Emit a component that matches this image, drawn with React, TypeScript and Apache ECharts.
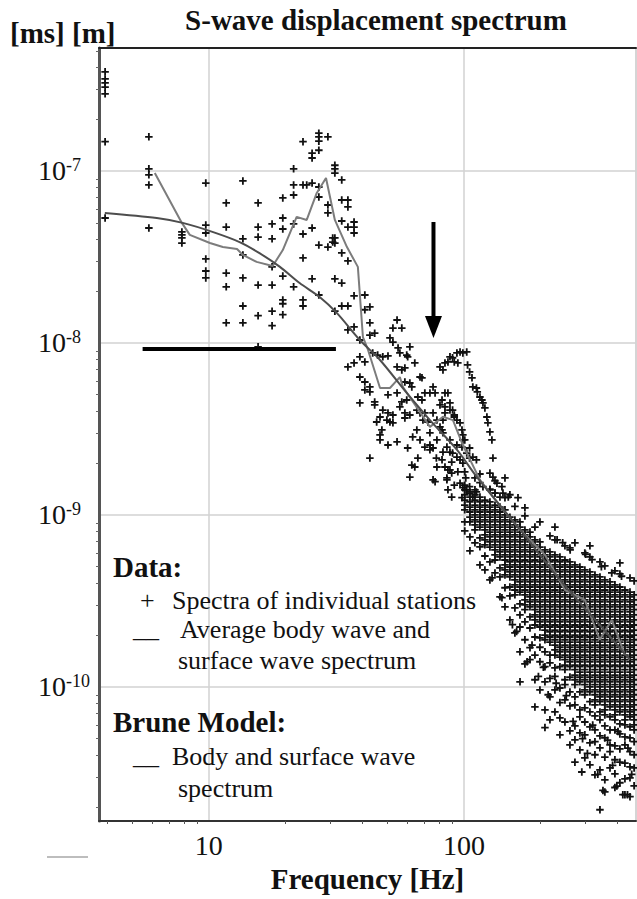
import React, { useEffect, useRef } from 'react';
import * as echarts from 'echarts';

const FONT = "'Liberation Serif', 'Times New Roman', Times, serif";

// ---- axis ranges & tick values ----
const freqMin = 3.71;
const freqMax = 473;
const ampMin = 1.66e-11;
const ampMax = 5.19e-7;
const minorFreqTicks = [4, 5, 6, 7, 8, 9, 20, 30, 40, 50, 60, 70, 80, 90, 200, 300, 400];
const minorAmpTicks = [
  2e-11, 3e-11, 4e-11, 5e-11, 6e-11, 7e-11, 8e-11, 9e-11,
  2e-10, 3e-10, 4e-10, 5e-10, 6e-10, 7e-10, 8e-10, 9e-10,
  2e-9, 3e-9, 4e-9, 5e-9, 6e-9, 7e-9, 8e-9, 9e-9,
  2e-8, 3e-8, 4e-8, 5e-8, 6e-8, 7e-8, 8e-8, 9e-8,
  2e-7, 3e-7, 4e-7, 5e-7,
];

// ---- station spectra, low frequencies [Hz, m·s] ----
const lowFreqPoints: [number, number][] = [
  [3.92, 3.77e-7], [3.92, 3.43e-7], [3.92, 3.25e-7], [3.92, 3.07e-7], [3.92, 2.81e-7], [3.92, 1.48e-7], [3.92, 5.33e-8],
  [5.82, 1.58e-7], [5.82, 1.03e-7], [5.82, 9.5e-8], [5.82, 8.3e-8], [5.82, 4.66e-8],
  [7.84, 4.42e-8], [7.84, 4.25e-8], [7.84, 4.08e-8], [7.84, 3.81e-8],
  [9.73, 8.5e-8], [9.73, 4.85e-8], [9.73, 4.36e-8], [9.73, 3.08e-8], [9.73, 2.62e-8], [9.73, 2.39e-8],
  [11.7, 6.52e-8], [11.7, 4.72e-8], [11.7, 2.55e-8], [11.7, 2.12e-8], [11.7, 1.31e-8],
  [13.6, 8.75e-8], [13.6, 4.03e-8], [13.6, 3.25e-8], [13.6, 2.39e-8], [13.6, 1.64e-8], [13.6, 1.31e-8],
  [15.6, 6.52e-8], [15.6, 4.72e-8], [15.6, 4.13e-8], [15.6, 2.17e-8], [15.6, 1.44e-8], [15.6, 9.5e-9],
  [17.7, 4.92e-8], [17.7, 4.03e-8], [17.7, 2.77e-8], [17.7, 2.17e-8], [17.7, 1.53e-8], [17.7, 1.26e-8],
  [19.5, 6.97e-8], [19.5, 5.33e-8], [19.5, 4.6e-8], [19.5, 2.45e-8], [19.5, 1.78e-8], [19.5, 1.69e-8], [19.5, 1.46e-8],
  [21.5, 1.03e-7], [21.5, 8.3e-8], [21.5, 7.25e-8], [21.5, 4.92e-8], [21.5, 2.12e-8],
  [23.4, 1.48e-7], [23.4, 8.3e-8], [24.2, 8.3e-8], [23.4, 4.3e-8], [23.4, 3.12e-8], [23.4, 1.78e-8], [23.4, 1.64e-8],
  [25.4, 1.27e-7], [25.4, 1.19e-7], [25.4, 8.5e-8], [25.4, 4.66e-8], [25.4, 2.36e-8],
  [27.0, 1.66e-7], [27.0, 1.58e-7], [27.0, 1.49e-7], [27.0, 1.32e-7], [27.0, 8.07e-8], [27.0, 7.06e-8], [27.0, 3.71e-8], [27.0, 1.9e-8],
  [29.3, 1.58e-7], [29.3, 6.34e-8], [29.3, 5.7e-8], [29.3, 3.61e-8],
  [30.6, 4.08e-8], [30.6, 3.86e-8],
  [31.2, 1.08e-7], [31.2, 1.03e-7], [31.2, 9.73e-8], [31.2, 4.08e-8], [31.2, 3.81e-8], [31.2, 2.36e-8], [31.2, 1.53e-8],
  [33.2, 8.87e-8], [33.2, 6.78e-8], [33.2, 5.12e-8], [33.2, 3.34e-8], [33.2, 2.23e-8], [33.2, 1.64e-8],
  [35.1, 6.78e-8], [35.1, 6.18e-8], [35.1, 4.72e-8], [35.1, 3.0e-8], [35.1, 1.64e-8], [35.1, 1.19e-8], [35.1, 7.25e-9],
  [37.1, 5.05e-8], [37.1, 4.72e-8], [37.1, 4.36e-8], [37.1, 1.88e-8], [37.1, 1.24e-8], [37.1, 7.65e-9],
];

// ---- station spectra, 39–165 Hz ----
const midFreqPoints: [number, number][] = [
  [39.1, 1.04e-8], [39.1, 8.3e-9], [39.1, 6.34e-9], [39.1, 4.48e-9],
  [40.9, 1.9e-8], [40.9, 1.56e-8], [40.9, 7.76e-9], [40.9, 5.93e-9], [40.9, 5.33e-9],
  [42.8, 1.62e-8], [42.8, 1.31e-8], [42.8, 1.11e-8], [42.8, 5.55e-9], [42.8, 5.19e-9], [42.8, 2.14e-9],
  [43.9, 8.75e-9], [44.7, 1.14e-8], [44.7, 4.54e-9], [44.7, 4.36e-9], [45.5, 3.47e-9], [45.9, 8.5e-9],
  [46.9, 3.71e-9], [46.9, 2.92e-9], [46.9, 2.73e-9], [47.7, 3.12e-9], [48.1, 8.3e-9], [48.1, 4.07e-9],
  [49.9, 3.56e-9], [50.4, 8.4e-9], [50.4, 4.99e-9], [50.4, 3.92e-9], [50.4, 2.55e-9], [51.3, 1.07e-8], [51.3, 3.47e-9],
  [52.7, 1.22e-8], [52.7, 1.01e-8], [52.7, 3.81e-9], [52.7, 3.43e-9],
  [54.7, 1.36e-8], [54.7, 5.12e-9], [54.7, 7.25e-9], [54.7, 2.66e-9], [55.2, 9.35e-9], [56.1, 8.75e-9], [56.1, 4.25e-9],
  [57.1, 1.22e-8], [57.1, 4.54e-9], [57.1, 6.97e-9],
  [58.7, 7.16e-9], [58.7, 3.92e-9], [58.7, 3.66e-9], [58.7, 5.93e-9], [59.7, 8.5e-9], [59.7, 4.66e-9], [60.2, 8.3e-9],
  [60.2, 2.45e-9], [61.4, 9.5e-9], [61.4, 5.85e-9], [61.4, 3.81e-9], [61.4, 1.66e-9],
  [62.5, 5.55e-9], [62.5, 1.95e-9], [63.0, 2.84e-9], [64.2, 7.65e-9], [64.2, 1.9e-9], [65.4, 4.07e-9], [65.4, 3.12e-9],
  [66.0, 4.85e-9], [66.0, 2.14e-9],
  [67.3, 6.34e-9], [67.3, 3.92e-9], [67.3, 2.73e-9], [68.5, 6.27e-9], [68.5, 4.66e-9], [69.1, 3.56e-9], [70.3, 5.12e-9],
  [70.3, 3.92e-9], [70.3, 2.48e-9],
  [72.3, 3.47e-9], [73.6, 5.12e-9], [73.6, 3.0e-9], [73.6, 2.55e-9], [73.6, 2.39e-9], [75.7, 5.55e-9], [75.7, 3.92e-9],
  [75.7, 2.45e-9], [75.7, 1.6e-9], [77.1, 5.12e-9], [77.1, 1.56e-9], [78.4, 3.56e-9], [78.4, 2.73e-9], [78.4, 1.9e-9], [78.0, 2.14e-9],
  [80.6, 7.25e-9], [80.6, 4.36e-9], [80.6, 3.25e-9], [82.1, 4.66e-9], [82.1, 3.12e-9], [82.1, 2.09e-9], [82.8, 6.97e-9],
  [82.8, 3.56e-9], [82.8, 3.0e-9], [82.8, 2.32e-9], [84.3, 7.65e-9], [84.3, 5.12e-9], [84.3, 4.25e-9], [84.3, 3.92e-9], [84.3, 1.9e-9],
  [85.8, 2.48e-9], [85.8, 1.64e-9], [85.8, 1.6e-9], [86.6, 7.76e-9], [86.6, 5.12e-9], [86.6, 1.83e-9], [86.6, 1.4e-9],
  [88.2, 8.3e-9], [88.2, 4.48e-9], [88.2, 4.07e-9], [88.2, 2.73e-9], [88.2, 2.32e-9], [88.2, 1.83e-9], [89.6, 1.75e-9],
  [89.6, 1.27e-9], [89.6, 2.03e-9], [90.3, 8.2e-9], [90.3, 4.07e-9], [90.3, 2.29e-9], [91.7, 7.76e-9], [91.7, 3.81e-9],
  [91.7, 3.71e-9], [91.7, 1.49e-9], [93.9, 8.75e-9], [93.9, 3.56e-9], [93.9, 2.55e-9], [93.9, 2.17e-9], [94.7, 7.65e-9], [94.7, 1.78e-9],
  [96.6, 8.87e-9], [96.6, 3.43e-9], [96.6, 2.09e-9], [96.6, 1.53e-9], [98.3, 3.12e-9], [98.3, 2.48e-9], [98.3, 1.26e-9],
  [99.1, 8.75e-9], [99.1, 2.92e-9], [99.1, 2.73e-9], [99.1, 2.0e-9], [99.1, 1.44e-9], [100.8, 2.73e-9], [101.7, 1.64e-9],
  [102.6, 8.87e-9], [102.6, 2.29e-9], [102.6, 1.4e-9], [103.4, 7.45e-9], [105.3, 6.78e-9], [105.3, 2.45e-9],
  [105.3, 2.14e-9], [105.3, 1.34e-9], [105.3, 1.46e-9],
  [107.6, 6.27e-9], [108.4, 5.55e-9], [108.4, 2.17e-9], [108.4, 1.27e-9], [112, 5.47e-9], [112, 2.09e-9], [112, 1.36e-9],
  [112.9, 5.19e-9], [115.6, 4.85e-9], [117.7, 4.66e-9], [118.8, 4.48e-9], [118.8, 1.46e-9], [120.9, 4.19e-9],
  [123.1, 3.71e-9], [124.2, 3.43e-9], [126.5, 3.04e-9], [126.5, 1.75e-9], [126.5, 1.4e-9], [128.8, 2.73e-9],
  [130, 2.14e-9], [130, 1.66e-9], [132.4, 1.34e-9], [134.8, 1.53e-9], [138.5, 1.27e-9], [141, 1.46e-9],
  [142.3, 1.34e-9], [144.9, 1.64e-9], [149.3, 1.27e-9], [163, 1.26e-9],
];

// ---- station spectra, scattered points around the dense cloud ----
const fringePoints: [number, number][] = [
  [232, 7.16e-10], [261, 6.26e-10], [244, 6.9e-10], [166, 1.07e-10],
  [335, 3.1e-11], [351, 2.5e-11], [398, 2.65e-11], [420, 2.36e-11], [438, 2.36e-11],
  [129, 4.3e-10], [141, 3.3e-10], [155, 2.3e-10], [161, 2.1e-10], [177, 1.4e-10], [196, 1.15e-10],
  [300, 5.9e-10], [318, 5.5e-10], [346, 5.0e-10], [380, 4.6e-10], [415, 4.4e-10],
  [252, 8.9e-11], [268, 6.3e-11], [292, 5.0e-11], [305, 4.1e-11], [320, 6.0e-11], [366, 4.9e-11], [383, 3.5e-11],
  [402, 5.5e-11], [440, 4.4e-11], [230, 1.05e-10], [205, 1.3e-10], [185, 1.75e-10], [214, 9.0e-11], [290, 3.2e-11], [455, 3.1e-11],
];

// ---- station spectra, dense high-frequency cloud (one list of amplitudes per frequency) ----
const cloudFreqs = [100.8, 105.6, 110.5, 115.6, 120.9, 126.5, 132.4, 138.5, 144.9, 151.5, 158.5, 165.9, 173.5, 181.6, 189.9, 198.7, 207.9, 217.5, 227.5, 238, 249, 260.5, 272.5, 285, 298, 312, 326.5, 341.6, 357, 374, 391, 409, 428, 448, 465];
const cloudAmps: number[][] = [
  [1.78e-9, 1.49e-9, 1.40e-9, 1.31e-9, 1.22e-9, 1.14e-9, 1.07e-9, 9.1e-10, 8.07e-10],
  [1.36e-9, 1.27e-9, 1.19e-9, 1.11e-9, 1.04e-9, 9.7e-10, 9.1e-10, 7.45e-10, 6.18e-10],
  [1.64e-9, 1.40e-9, 1.31e-9, 1.22e-9, 1.14e-9, 1.07e-9, 1.0e-9, 9.35e-10, 8.75e-10, 8.18e-10, 6.88e-10],
  [1.73e-9, 1.54e-9, 1.27e-9, 1.19e-9, 1.11e-9, 1.04e-9, 9.7e-10, 9.1e-10, 8.5e-10, 7.35e-10, 6.52e-10, 5.12e-10],
  [1.22e-9, 1.14e-9, 1.07e-9, 1.0e-9, 9.35e-10, 8.75e-10, 8.18e-10, 7.65e-10, 7.16e-10, 6.70e-10, 5.77e-10, 4.79e-10],
  [1.41e-9, 1.19e-9, 1.11e-9, 1.04e-9, 9.7e-10, 9.1e-10, 8.5e-10, 7.95e-10, 7.45e-10, 6.97e-10, 6.5e-10, 5.33e-10, 4.19e-10],
  [1.58e-9, 1.34e-9, 1.14e-9, 1.07e-9, 1.0e-9, 9.35e-10, 8.75e-10, 8.18e-10, 7.65e-10, 7.16e-10, 6.70e-10, 6.26e-10, 5.85e-10, 5.47e-10, 4.6e-10],
  [1.11e-9, 1.04e-9, 9.7e-10, 9.1e-10, 8.5e-10, 7.95e-10, 7.45e-10, 6.97e-10, 6.5e-10, 6.09e-10, 5.7e-10, 4.92e-10, 4.36e-10, 3.34e-10],
  [1.26e-9, 1.07e-9, 1.0e-9, 9.35e-10, 8.75e-10, 8.18e-10, 7.65e-10, 7.16e-10, 6.70e-10, 6.26e-10, 5.85e-10, 5.47e-10, 5.12e-10, 4.79e-10, 4.48e-10, 3.77e-10, 2.92e-10],
  [1.31e-9, 9.7e-10, 9.1e-10, 8.5e-10, 7.95e-10, 7.45e-10, 6.97e-10, 6.5e-10, 6.09e-10, 5.7e-10, 5.33e-10, 4.98e-10, 4.66e-10, 4.36e-10, 3.81e-10, 3.38e-10, 2.45e-10],
  [1.12e-9, 9.35e-10, 8.75e-10, 8.18e-10, 7.65e-10, 7.16e-10, 6.70e-10, 6.26e-10, 5.85e-10, 5.47e-10, 5.12e-10, 4.79e-10, 4.48e-10, 4.19e-10, 3.92e-10, 3.66e-10, 3.43e-10, 2.88e-10, 2.06e-10],
  [9.1e-10, 8.5e-10, 7.95e-10, 7.45e-10, 6.97e-10, 6.5e-10, 6.09e-10, 5.7e-10, 5.33e-10, 4.98e-10, 4.66e-10, 4.36e-10, 4.08e-10, 3.81e-10, 3.56e-10, 3.04e-10, 2.62e-10, 2.23e-10, 1.6e-10],
  [1.10e-9, 9.87e-10, 8.18e-10, 7.65e-10, 7.16e-10, 6.70e-10, 6.26e-10, 5.85e-10, 5.47e-10, 5.12e-10, 4.79e-10, 4.48e-10, 4.19e-10, 3.92e-10, 3.66e-10, 3.43e-10, 3.21e-10, 3.0e-10, 2.81e-10, 2.39e-10, 1.88e-10, 1.36e-10],
  [7.95e-10, 7.45e-10, 6.97e-10, 6.5e-10, 6.09e-10, 5.7e-10, 5.33e-10, 4.98e-10, 4.66e-10, 4.36e-10, 4.08e-10, 3.81e-10, 3.56e-10, 3.34e-10, 3.12e-10, 2.92e-10, 2.55e-10, 2.2e-10, 1.69e-10, 1.44e-10],
  [8.5e-10, 7.16e-10, 6.70e-10, 6.26e-10, 5.85e-10, 5.47e-10, 5.12e-10, 4.79e-10, 4.48e-10, 4.19e-10, 3.92e-10, 3.66e-10, 3.43e-10, 3.21e-10, 3.0e-10, 2.81e-10, 2.62e-10, 2.45e-10, 2.29e-10, 1.95e-10, 1.53e-10, 1.10e-10, 7.65e-11],
  [9.1e-10, 6.97e-10, 6.5e-10, 6.09e-10, 5.7e-10, 5.33e-10, 4.98e-10, 4.66e-10, 4.36e-10, 4.08e-10, 3.81e-10, 3.56e-10, 3.34e-10, 3.12e-10, 2.92e-10, 2.73e-10, 2.55e-10, 2.39e-10, 2.23e-10, 1.93e-10, 1.7e-10, 1.4e-10, 9.6e-11],
  [6.26e-10, 5.85e-10, 5.47e-10, 5.12e-10, 4.79e-10, 4.48e-10, 4.19e-10, 3.92e-10, 3.66e-10, 3.43e-10, 3.21e-10, 3.0e-10, 2.81e-10, 2.62e-10, 2.45e-10, 2.29e-10, 2.14e-10, 2.0e-10, 1.88e-10, 1.6e-10, 1.31e-10, 1.07e-10, 7.35e-11, 5.8e-11],
  [7.55e-10, 6.09e-10, 5.7e-10, 5.33e-10, 4.98e-10, 4.66e-10, 4.36e-10, 4.08e-10, 3.81e-10, 3.56e-10, 3.34e-10, 3.12e-10, 2.92e-10, 2.73e-10, 2.55e-10, 2.39e-10, 2.23e-10, 2.09e-10, 1.95e-10, 1.82e-10, 1.53e-10, 1.38e-10, 1.12e-10, 8.75e-11, 6.43e-11],
  [8.5e-10, 7.16e-10, 5.85e-10, 5.47e-10, 5.12e-10, 4.79e-10, 4.48e-10, 4.19e-10, 3.92e-10, 3.66e-10, 3.43e-10, 3.21e-10, 3.0e-10, 2.81e-10, 2.62e-10, 2.45e-10, 2.29e-10, 2.14e-10, 2.0e-10, 1.88e-10, 1.75e-10, 1.64e-10, 1.53e-10, 1.29e-10, 1.15e-10, 9.6e-11, 7.15e-11],
  [5.7e-10, 5.33e-10, 4.98e-10, 4.66e-10, 4.36e-10, 4.08e-10, 3.81e-10, 3.56e-10, 3.34e-10, 3.12e-10, 2.92e-10, 2.73e-10, 2.55e-10, 2.39e-10, 2.23e-10, 2.09e-10, 1.95e-10, 1.82e-10, 1.7e-10, 1.6e-10, 1.49e-10, 1.31e-10, 9.85e-11, 8.1e-11, 6.6e-11, 5.26e-11],
  [6.61e-10, 5.47e-10, 5.12e-10, 4.79e-10, 4.48e-10, 4.19e-10, 3.92e-10, 3.66e-10, 3.43e-10, 3.21e-10, 3.0e-10, 2.81e-10, 2.62e-10, 2.45e-10, 2.29e-10, 2.14e-10, 2.0e-10, 1.88e-10, 1.75e-10, 1.64e-10, 1.53e-10, 1.44e-10, 1.34e-10, 1.26e-10, 1.10e-10, 1.03e-10, 8.4e-11, 6.25e-11],
  [6.43e-10, 5.33e-10, 4.98e-10, 4.66e-10, 4.36e-10, 4.08e-10, 3.81e-10, 3.56e-10, 3.34e-10, 3.12e-10, 2.92e-10, 2.73e-10, 2.55e-10, 2.39e-10, 2.23e-10, 2.09e-10, 1.95e-10, 1.82e-10, 1.7e-10, 1.6e-10, 1.49e-10, 1.4e-10, 1.31e-10, 1.14e-10, 9.35e-11, 7.75e-11, 5.55e-11, 4.6e-11],
  [6.88e-10, 5.12e-10, 4.79e-10, 4.48e-10, 4.19e-10, 3.92e-10, 3.66e-10, 3.43e-10, 3.21e-10, 3.0e-10, 2.81e-10, 2.62e-10, 2.45e-10, 2.29e-10, 2.14e-10, 2.0e-10, 1.88e-10, 1.75e-10, 1.64e-10, 1.53e-10, 1.44e-10, 1.34e-10, 1.26e-10, 1.17e-10, 1.10e-10, 1.03e-10, 8.75e-11, 7.85e-11, 5.93e-11, 4.92e-11, 3.65e-11],
  [4.98e-10, 4.66e-10, 4.36e-10, 4.08e-10, 3.81e-10, 3.56e-10, 3.34e-10, 3.12e-10, 2.92e-10, 2.73e-10, 2.55e-10, 2.39e-10, 2.23e-10, 2.09e-10, 1.95e-10, 1.82e-10, 1.7e-10, 1.6e-10, 1.49e-10, 1.4e-10, 1.31e-10, 1.22e-10, 1.14e-10, 1.07e-10, 9.35e-11, 7.35e-11, 6.7e-11, 5.4e-11, 4.3e-11],
  [6.01e-10, 4.79e-10, 4.48e-10, 4.19e-10, 3.92e-10, 3.66e-10, 3.43e-10, 3.21e-10, 3.0e-10, 2.81e-10, 2.62e-10, 2.45e-10, 2.29e-10, 2.14e-10, 2.0e-10, 1.88e-10, 1.75e-10, 1.64e-10, 1.53e-10, 1.44e-10, 1.34e-10, 1.26e-10, 1.17e-10, 1.10e-10, 1.03e-10, 9.6e-11, 9.0e-11, 7.55e-11, 6.25e-11, 5.26e-11, 3.87e-11],
  [6.61e-10, 5.7e-10, 4.66e-10, 4.36e-10, 4.08e-10, 3.81e-10, 3.56e-10, 3.34e-10, 3.12e-10, 2.92e-10, 2.73e-10, 2.55e-10, 2.39e-10, 2.23e-10, 2.09e-10, 1.95e-10, 1.82e-10, 1.7e-10, 1.6e-10, 1.49e-10, 1.4e-10, 1.31e-10, 1.22e-10, 1.14e-10, 1.07e-10, 1.0e-10, 9.35e-11, 8.2e-11, 7.15e-11, 5.85e-11, 4.73e-11, 3.52e-11],
  [4.48e-10, 4.19e-10, 3.92e-10, 3.66e-10, 3.43e-10, 3.21e-10, 3.0e-10, 2.81e-10, 2.62e-10, 2.45e-10, 2.29e-10, 2.14e-10, 2.0e-10, 1.88e-10, 1.75e-10, 1.64e-10, 1.53e-10, 1.44e-10, 1.34e-10, 1.26e-10, 1.17e-10, 1.10e-10, 1.03e-10, 9.6e-11, 9.0e-11, 8.4e-11, 7.85e-11, 6.78e-11, 5.62e-11, 4.8e-11, 4.03e-11, 3.08e-11],
  [5.33e-10, 4.36e-10, 4.08e-10, 3.81e-10, 3.56e-10, 3.34e-10, 3.12e-10, 2.92e-10, 2.73e-10, 2.55e-10, 2.39e-10, 2.23e-10, 2.09e-10, 1.95e-10, 1.82e-10, 1.7e-10, 1.6e-10, 1.49e-10, 1.4e-10, 1.31e-10, 1.22e-10, 1.14e-10, 1.07e-10, 1.0e-10, 9.35e-11, 8.75e-11, 8.2e-11, 7.15e-11, 6.43e-11, 5.19e-11, 4.42e-11, 3.29e-11, 1.93e-11],
  [5.05e-10, 4.19e-10, 3.92e-10, 3.66e-10, 3.43e-10, 3.21e-10, 3.0e-10, 2.81e-10, 2.62e-10, 2.45e-10, 2.29e-10, 2.14e-10, 2.0e-10, 1.88e-10, 1.75e-10, 1.64e-10, 1.53e-10, 1.44e-10, 1.34e-10, 1.26e-10, 1.17e-10, 1.10e-10, 1.03e-10, 9.6e-11, 9.0e-11, 8.4e-11, 7.85e-11, 7.35e-11, 6.87e-11, 5.93e-11, 5.05e-11, 3.9e-11, 2.88e-11, 2.45e-11],
  [4.08e-10, 3.81e-10, 3.56e-10, 3.34e-10, 3.12e-10, 2.92e-10, 2.73e-10, 2.55e-10, 2.39e-10, 2.23e-10, 2.09e-10, 1.95e-10, 1.82e-10, 1.7e-10, 1.6e-10, 1.49e-10, 1.4e-10, 1.31e-10, 1.22e-10, 1.14e-10, 1.07e-10, 1.0e-10, 9.35e-11, 8.75e-11, 8.2e-11, 7.65e-11, 6.7e-11, 5.62e-11, 4.6e-11, 4.2e-11, 3.38e-11],
  [4.73e-10, 3.92e-10, 3.66e-10, 3.43e-10, 3.21e-10, 3.0e-10, 2.81e-10, 2.62e-10, 2.45e-10, 2.29e-10, 2.14e-10, 2.0e-10, 1.88e-10, 1.75e-10, 1.64e-10, 1.53e-10, 1.44e-10, 1.34e-10, 1.26e-10, 1.17e-10, 1.10e-10, 1.03e-10, 9.6e-11, 9.0e-11, 8.4e-11, 7.85e-11, 7.35e-11, 6.87e-11, 6.43e-11, 5.62e-11, 4.54e-11, 3.77e-11, 3.12e-11, 2.6e-11],
  [5.26e-10, 4.54e-10, 3.81e-10, 3.56e-10, 3.34e-10, 3.12e-10, 2.92e-10, 2.73e-10, 2.55e-10, 2.39e-10, 2.23e-10, 2.09e-10, 1.95e-10, 1.82e-10, 1.7e-10, 1.6e-10, 1.49e-10, 1.4e-10, 1.31e-10, 1.22e-10, 1.14e-10, 1.07e-10, 1.0e-10, 9.35e-11, 8.75e-11, 8.2e-11, 7.65e-11, 7.15e-11, 6.1e-11, 5.33e-11, 4.36e-11, 3.65e-11, 2.77e-11],
  [3.66e-10, 3.43e-10, 3.21e-10, 3.0e-10, 2.81e-10, 2.62e-10, 2.45e-10, 2.29e-10, 2.14e-10, 2.0e-10, 1.88e-10, 1.75e-10, 1.64e-10, 1.53e-10, 1.44e-10, 1.34e-10, 1.26e-10, 1.17e-10, 1.10e-10, 1.03e-10, 9.6e-11, 9.0e-11, 8.4e-11, 7.85e-11, 7.35e-11, 6.87e-11, 6.43e-11, 6.01e-11, 5.12e-11, 4.6e-11, 3.6e-11, 2.92e-11, 2.36e-11],
  [4.30e-10, 3.56e-10, 3.34e-10, 3.12e-10, 2.92e-10, 2.73e-10, 2.55e-10, 2.39e-10, 2.23e-10, 2.09e-10, 1.95e-10, 1.82e-10, 1.7e-10, 1.6e-10, 1.49e-10, 1.4e-10, 1.31e-10, 1.22e-10, 1.14e-10, 1.07e-10, 1.0e-10, 9.35e-11, 8.75e-11, 8.2e-11, 7.65e-11, 7.15e-11, 6.7e-11, 5.85e-11, 5.05e-11, 4.2e-11, 3.43e-11, 2.96e-11, 2.3e-11],
  [4.13e-10, 3.43e-10, 3.21e-10, 3.0e-10, 2.81e-10, 2.62e-10, 2.45e-10, 2.29e-10, 2.14e-10, 2.0e-10, 1.88e-10, 1.75e-10, 1.64e-10, 1.53e-10, 1.44e-10, 1.34e-10, 1.26e-10, 1.17e-10, 1.10e-10, 1.03e-10, 9.6e-11, 9.0e-11, 8.4e-11, 7.85e-11, 7.35e-11, 6.87e-11, 6.43e-11, 6.01e-11, 5.62e-11, 4.8e-11, 4.03e-11, 3.38e-11, 2.66e-11],
];

// ---- average body & surface wave spectrum ----
const averageFreq = [6.14, 7.84, 8.42, 10.1, 11.35, 12.9, 13.6, 15.4, 17.8, 19.5, 22.1, 24.2, 26.5, 28.8, 31.2, 34.8, 38.4, 40.2, 42.1, 46.9, 51.3, 56.1, 57.7, 73.6, 82.8, 90.6, 99.1, 115.6, 138, 166, 208, 249, 298, 341, 380, 428];
const averageAmp = [9.73e-8, 4.99e-8, 4.25e-8, 3.81e-8, 3.61e-8, 3.52e-8, 3.25e-8, 2.96e-8, 2.8e-8, 3.47e-8, 5.41e-8, 5.19e-8, 7.45e-8, 9.1e-8, 5.19e-8, 3.61e-8, 2.77e-8, 1.08e-8, 9.1e-9, 5.47e-9, 5.47e-9, 6.33e-9, 5.54e-9, 3.25e-9, 3.72e-9, 3.56e-9, 2.55e-9, 1.6e-9, 1.14e-9, 8.2e-10, 5.85e-10, 3.66e-10, 3.2e-10, 1.88e-10, 2.45e-10, 1.53e-10];

// ---- Brune model ----
const bruneFreq = [3.91, 6.25, 7.9, 10.4, 13.2, 15.8, 19.0, 22.7, 27.2, 31.8, 39.1, 46.9, 59.7, 73.6, 94, 112.5, 166, 238, 341, 448];
const bruneAmp = [5.7e-8, 5.33e-8, 4.99e-8, 4.41e-8, 3.86e-8, 3.33e-8, 2.77e-8, 2.23e-8, 1.85e-8, 1.49e-8, 1.04e-8, 7.96e-9, 5.12e-9, 3.56e-9, 2.39e-9, 1.66e-9, 8.2e-10, 4.19e-10, 2.29e-10, 1.44e-10];

// ---- annotations (in data units) ----
const plateauFreq = [5.5, 31.5];
const plateauAmp = [9.23e-9, 9.23e-9];
const arrowFreq = [76, 76];
const arrowAmp = [5.05e-8, 1.24e-8];

const PLUS = 'path://M0 3.8L3.8 3.8L3.8 0L6.2 0L6.2 3.8L10 3.8L10 6.2L6.2 6.2L6.2 10L3.8 10L3.8 6.2L0 6.2Z';

function buildOption() {
  const stationData: [number, number][] = [...lowFreqPoints, ...midFreqPoints, ...fringePoints];
  cloudFreqs.forEach((f, i) => cloudAmps[i].forEach((a) => stationData.push([f, a])));

  const legendText = (text: string, x: number, y: number, bold = false, size = 26) => ({
    type: 'text',
    x,
    y,
    z: 100,
    style: {
      text,
      font: `${bold ? 'bold ' : ''}${size}px ${FONT}`,
      fill: '#111',
      textAlign: 'left',
      textVerticalAlign: 'middle',
    },
  });

  const hiddenAxis = {
    axisLine: { show: false },
    axisLabel: { show: false },
    splitLine: { show: false },
    axisTick: { show: false },
  };

  return {
    animation: false,
    backgroundColor: '#ffffff',
    grid: { left: 99, right: 1, top: 48, bottom: 78, containLabel: false },
    xAxis: [
      {
        type: 'log',
        logBase: 10,
        min: freqMin,
        max: freqMax,
        position: 'bottom',
        axisLine: { show: true, onZero: false, lineStyle: { color: '#333', width: 2 } },
        axisTick: { show: false },
        axisLabel: {
          show: true,
          showMinLabel: false,
          showMaxLabel: false,
          fontFamily: FONT,
          fontSize: 28,
          color: '#111',
          margin: 10,
          formatter: (v: number) => String(Math.round(v)),
        },
        splitLine: { show: true, lineStyle: { color: '#d2d2d2', width: 1.5 } },
        name: 'Frequency [Hz]',
        nameLocation: 'middle',
        nameGap: 43,
        nameTextStyle: { fontFamily: FONT, fontSize: 29, fontWeight: 'bold', color: '#111' },
      },
      {
        type: 'log',
        min: freqMin,
        max: freqMax,
        position: 'bottom',
        ...hiddenAxis,
        axisTick: { show: true, length: 3, customValues: minorFreqTicks, lineStyle: { color: '#555', width: 1 } },
      },
      {
        type: 'log',
        min: freqMin,
        max: freqMax,
        position: 'top',
        ...hiddenAxis,
        axisLine: { show: true, onZero: false, lineStyle: { color: '#222', width: 2 } },
      },
    ],
    yAxis: [
      {
        type: 'log',
        logBase: 10,
        min: ampMin,
        max: ampMax,
        position: 'left',
        axisLine: { show: true, onZero: false, lineStyle: { color: '#555', width: 3 } },
        axisTick: { show: false },
        axisLabel: {
          show: true,
          showMinLabel: false,
          showMaxLabel: false,
          align: 'left',
          margin: 61,
          formatter: (v: number) => `{b|10}{s|${Math.round(Math.log10(v))}}`,
          rich: {
            b: { fontFamily: FONT, fontSize: 28, lineHeight: 30, color: '#111' },
            s: { fontFamily: FONT, fontSize: 18, lineHeight: 18, color: '#111', verticalAlign: 'top' },
          },
        },
        splitLine: { show: true, lineStyle: { color: '#d2d2d2', width: 1.5 } },
      },
      {
        type: 'log',
        min: ampMin,
        max: ampMax,
        position: 'left',
        ...hiddenAxis,
        axisTick: { show: true, length: 3, customValues: minorAmpTicks, lineStyle: { color: '#666', width: 1 } },
      },
      {
        type: 'log',
        min: ampMin,
        max: ampMax,
        position: 'right',
        ...hiddenAxis,
        axisLine: { show: true, onZero: false, lineStyle: { color: '#d2d2d2', width: 1.5 } },
      },
    ],
    series: [
      {
        name: 'Spectra of individual stations',
        type: 'scatter',
        data: stationData,
        symbol: PLUS,
        symbolSize: 7.5,
        itemStyle: { color: '#111', opacity: 1 },
        z: 2,
      },
      {
        name: 'Average body wave and surface wave spectrum',
        type: 'line',
        data: averageFreq.map((f, i) => [f, averageAmp[i]]),
        showSymbol: false,
        symbol: 'none',
        lineStyle: { color: '#7c7c7c', width: 2 },
        z: 3,
      },
      {
        name: 'Brune model',
        type: 'line',
        data: bruneFreq.map((f, i) => [f, bruneAmp[i]]),
        showSymbol: false,
        symbol: 'none',
        smooth: 0.3,
        lineStyle: { color: '#4d4d4d', width: 2 },
        z: 4,
      },
      {
        name: 'plateau',
        type: 'line',
        data: plateauFreq.map((f, i) => [f, plateauAmp[i]]),
        showSymbol: false,
        symbol: 'none',
        lineStyle: { color: '#000', width: 4 },
        z: 5,
      },
      {
        name: 'corner arrow',
        type: 'line',
        data: [
          { value: [arrowFreq[0], arrowAmp[0]], symbol: 'none' },
          { value: [arrowFreq[1], arrowAmp[1]], symbol: 'triangle', symbolSize: [17, 22], symbolRotate: 180 },
        ],
        showSymbol: true,
        itemStyle: { color: '#000' },
        lineStyle: { color: '#000', width: 4 },
        z: 5,
      },
    ],
    graphic: [
      {
        type: 'text',
        x: 376,
        y: 20,
        z: 100,
        style: {
          text: 'S-wave displacement spectrum',
          font: `bold 29px ${FONT}`,
          fill: '#111',
          textAlign: 'center',
          textVerticalAlign: 'middle',
        },
      },
      legendText('[ms] [m]', 10, 33, true, 29),
      legendText('Data:', 113, 567, true, 29),
      legendText('+', 140, 600),
      legendText('Spectra of individual stations', 172, 600),
      legendText('__', 133, 628),
      legendText('Average body wave and', 180, 629),
      legendText('surface wave spectrum', 178, 660),
      legendText('Brune Model:', 113, 722, true, 29),
      legendText('__', 133, 755),
      legendText('Body and surface wave', 172, 756),
      legendText('spectrum', 178, 788),
      {
        type: 'line',
        z: 100,
        shape: { x1: 47, y1: 857, x2: 88, y2: 857 },
        style: { stroke: '#bdbdbd', lineWidth: 2 },
      },
    ],
  };
}

export default function App() {
  const ref = useRef<HTMLDivElement>(null);
  useEffect(() => {
    if (!ref.current) return;
    const chart = echarts.init(ref.current, null, { renderer: 'svg' });
    chart.setOption(buildOption() as any);
    return () => {
      chart.dispose();
    };
  }, []);
  return (
    <div
      ref={ref}
      style={{ position: 'absolute', left: 0, top: 0, width: 637, height: 899, background: '#fff' }}
    />
  );
}
